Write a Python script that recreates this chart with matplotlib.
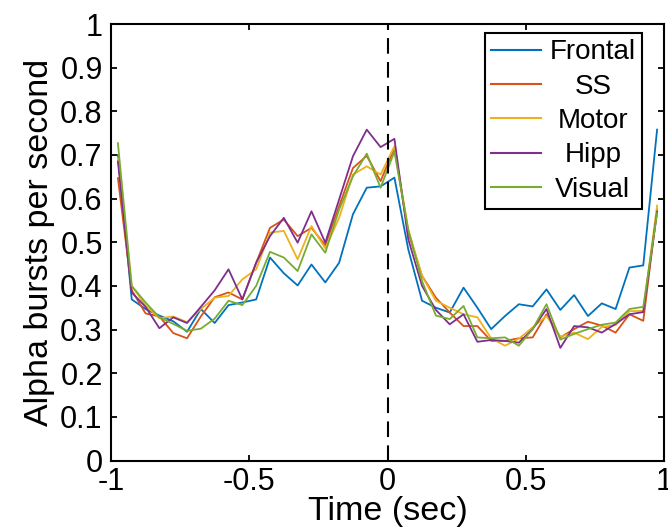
import numpy as np
import matplotlib
matplotlib.use("Agg")
import matplotlib.pyplot as plt

plt.rcParams['font.family'] = ['Liberation Sans', 'DejaVu Sans']
plt.rcParams['axes.unicode_minus'] = False

# bin centres (sec)
time = np.arange(-0.975, 1.0, 0.05)

frontal = [0.700, 0.369, 0.347, 0.332, 0.319, 0.295, 0.347, 0.315, 0.356, 0.362,
           0.369, 0.465, 0.429, 0.401, 0.449, 0.408, 0.453, 0.564, 0.625, 0.628,
           0.648, 0.484, 0.366, 0.350, 0.339, 0.396, 0.350, 0.301, 0.331, 0.358,
           0.353, 0.392, 0.345, 0.379, 0.331, 0.360, 0.347, 0.442, 0.447, 0.758]
ss = [0.647, 0.390, 0.337, 0.330, 0.292, 0.280, 0.330, 0.374, 0.385, 0.369,
      0.453, 0.533, 0.552, 0.514, 0.533, 0.493, 0.583, 0.670, 0.698, 0.640,
      0.716, 0.522, 0.423, 0.373, 0.339, 0.308, 0.308, 0.274, 0.274, 0.280,
      0.282, 0.335, 0.282, 0.301, 0.318, 0.309, 0.293, 0.335, 0.320, 0.575]
motor = [0.693, 0.400, 0.355, 0.326, 0.330, 0.317, 0.347, 0.373, 0.377, 0.415,
         0.438, 0.522, 0.526, 0.461, 0.537, 0.486, 0.556, 0.655, 0.674, 0.655,
         0.720, 0.529, 0.423, 0.366, 0.350, 0.335, 0.328, 0.280, 0.263, 0.279,
         0.305, 0.331, 0.284, 0.293, 0.278, 0.306, 0.310, 0.342, 0.343, 0.584]
hipp = [0.685, 0.385, 0.352, 0.303, 0.328, 0.315, 0.352, 0.390, 0.438, 0.369,
        0.453, 0.514, 0.556, 0.499, 0.571, 0.499, 0.598, 0.697, 0.758, 0.718,
        0.737, 0.507, 0.400, 0.345, 0.312, 0.335, 0.272, 0.276, 0.274, 0.270,
        0.301, 0.347, 0.258, 0.308, 0.305, 0.293, 0.313, 0.335, 0.340, 0.570]
visual = [0.727, 0.400, 0.362, 0.328, 0.313, 0.297, 0.302, 0.325, 0.366, 0.356,
          0.400, 0.478, 0.465, 0.434, 0.518, 0.476, 0.575, 0.651, 0.703, 0.625,
          0.708, 0.529, 0.411, 0.332, 0.324, 0.354, 0.282, 0.280, 0.282, 0.263,
          0.301, 0.358, 0.277, 0.290, 0.301, 0.311, 0.316, 0.347, 0.352, 0.567]

labels = ["Frontal", "SS", "Motor", "Hipp", "Visual"]
series = [frontal, ss, motor, hipp, visual]
colors = ["#0072BD", "#D95319", "#EDB120", "#7E2F8E", "#77AC30"]

xticks = [-1, -0.5, 0, 0.5, 1]
xticklabels = ["-1", "-0.5", "0", "0.5", "1"]
yticks = [0, 0.1, 0.2, 0.3, 0.4, 0.5, 0.6, 0.7, 0.8, 0.9, 1]
yticklabels = ["0", "0.1", "0.2", "0.3", "0.4", "0.5", "0.6", "0.7", "0.8", "0.9", "1"]

W, H = 668, 529
fig = plt.figure(figsize=(W / 100, H / 100), dpi=100)
ax = fig.add_axes([111 / W, 1 - 460.5 / H, (664 - 111) / W, (460.5 - 24) / H])

for vals, lab, c in zip(series, labels, colors):
    ax.plot(time, vals, color=c, lw=1.3, label=lab)

ax.plot([0, 0], [0, 1], color='black', lw=1.5, linestyle=(0, (7.5, 4)))

ax.set_xlim(-1, 1)
ax.set_ylim(0, 1)
ax.set_xticks(xticks)
ax.set_xticklabels(xticklabels)
ax.set_yticks(yticks)
ax.set_yticklabels(yticklabels)
ax.tick_params(direction='in', top=True, right=True, length=4.5, width=1.3,
               labelsize=22, color='black')
ax.tick_params(axis='x', pad=5)
ax.tick_params(axis='y', pad=6)
for s in ax.spines.values():
    s.set_linewidth(1.5)

ax.set_xlabel("Time (sec)", fontsize=24.5, labelpad=-1)
ax.set_ylabel("Alpha bursts per second", fontsize=24.5, labelpad=4)

leg = ax.legend(loc='upper right', bbox_to_anchor=((642 - 111) / 553, 1 - (33.3 - 24) / 436.5),
                borderaxespad=0, fontsize=20, frameon=True, fancybox=False,
                framealpha=1, edgecolor='black', handlelength=1.8,
                handletextpad=0.3, labelspacing=0.3, borderpad=0.22)
leg.get_frame().set_linewidth(1.5)
for ln in leg.get_lines():
    ln.set_linewidth(1.5)

fig.canvas.draw()
r = fig.canvas.get_renderer()
texts = leg.get_texts()
ws = [t.get_window_extent(r).width for t in texts]
mw = max(ws)
for t, w in zip(texts, ws):
    t.set_x((mw - w) / 2)

fig.savefig("out.png", dpi=100)
